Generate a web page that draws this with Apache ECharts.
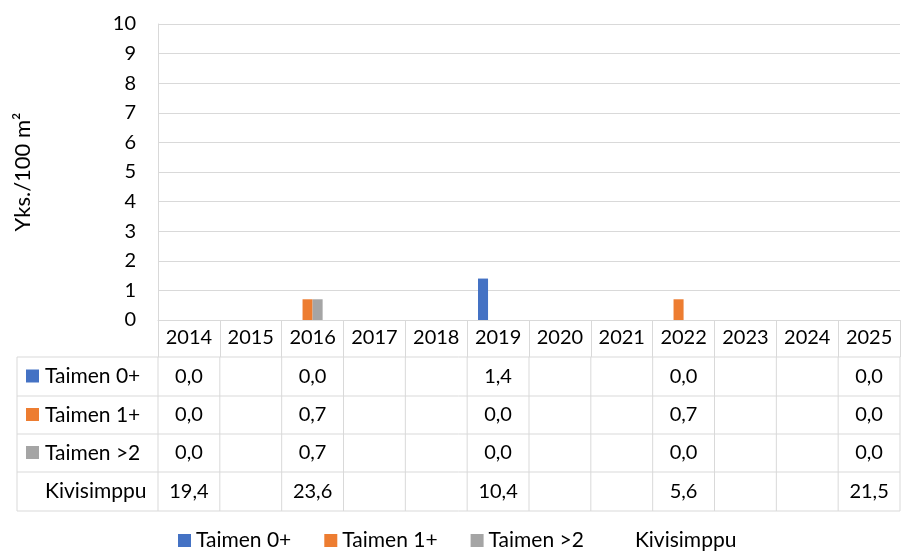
<!DOCTYPE html>
<html lang="fi">
<head>
    <meta charset="UTF-8">
    <title>Taimen / Kivisimppu</title>
    <script src="https://cdn.jsdelivr.net/npm/echarts@6.0.0/dist/echarts.min.js"></script>
    <style>
        body { margin: 0; background: #fff; }
    </style>
</head>
<body>
    <div id="chart" style="width: 901px; height: 557px;"></div>
    <script type="text/javascript">
        const years = ['2014', '2015', '2016', '2017', '2018', '2019', '2020', '2021', '2022', '2023', '2024', '2025'];
        const taimen0 = [0.0, null, 0.0, null, null, 1.4, null, null, 0.0, null, null, 0.0];
        const taimen1 = [0.0, null, 0.7, null, null, 0.0, null, null, 0.7, null, null, 0.0];
        const taimen2 = [0.0, null, 0.7, null, null, 0.0, null, null, 0.0, null, null, 0.0];
        const kivisimppu = [19.4, null, 23.6, null, null, 10.4, null, null, 5.6, null, null, 21.5];
        const yTicks = [0, 1, 2, 3, 4, 5, 6, 7, 8, 9, 10];

        const seriesNames = ['Taimen 0+', 'Taimen 1+', 'Taimen >2', 'Kivisimppu'];
        const seriesData = [taimen0, taimen1, taimen2, kivisimppu];
        const colors = ['#4472C4', '#ED7D31', '#A5A5A5', 'rgba(0,0,0,0)'];

        const FONT = 'Lato, "Open Sans", sans-serif';
        const FS = 20;
        const GRIDC = '#d9d9d9';

        const chart = echarts.init(document.getElementById('chart'), null, { renderer: 'canvas' });

        chart.setOption({
            animation: false,
            textStyle: { fontFamily: FONT, color: '#000' },
            grid: { left: 158, right: 1, top: 24, bottom: 237, containLabel: false },
            legend: {
                left: 173,
                bottom: 1,
                itemWidth: 13,
                itemHeight: 13,
                itemGap: 33,
                icon: 'rect',
                textStyle: { fontSize: 21, fontFamily: FONT, color: '#000' },
                data: seriesNames
            },
            xAxis: {
                type: 'category',
                data: years,
                axisLine: { lineStyle: { color: GRIDC } },
                axisTick: { show: true, interval: 0, length: 37, lineStyle: { color: GRIDC } },
                axisLabel: { fontSize: FS, color: '#000', margin: 8, interval: 0, fontFamily: FONT }
            },
            yAxis: {
                type: 'value',
                min: yTicks[0],
                max: yTicks[yTicks.length - 1],
                interval: 1,
                name: 'Yks./100 m²',
                nameLocation: 'middle',
                nameGap: 124,
                nameTextStyle: { fontSize: 22, color: '#000', fontFamily: FONT },
                axisLine: { show: true, lineStyle: { color: GRIDC } },
                axisLabel: { fontSize: FS, color: '#000', margin: 22, fontFamily: FONT },
                splitLine: { lineStyle: { color: GRIDC } }
            },
            series: seriesNames.map((name, i) => ({
                name: name,
                type: 'bar',
                data: seriesData[i],
                barGap: '0%',
                barCategoryGap: '35%',
                itemStyle: { color: colors[i] },
                clip: true
            }))
        });

        // data table under the plot
        function drawTable() {
            const step = chart.convertToPixel({ xAxisIndex: 0 }, 1) - chart.convertToPixel({ xAxisIndex: 0 }, 0);
            const x0 = chart.convertToPixel({ xAxisIndex: 0 }, 0) - step / 2;
            const tableLeft = 17;
            const rowTops = [357, 396, 434, 472, 511];
            const els = [];
            const line = (x1, y1, x2, y2) => els.push({
                type: 'line', silent: true,
                shape: { x1: x1, y1: y1, x2: x2, y2: y2 },
                style: { stroke: GRIDC, lineWidth: 1 }
            });
            rowTops.forEach(y => line(tableLeft, y, x0 + step * years.length, y));
            line(tableLeft, rowTops[0], tableLeft, rowTops[4]);
            for (let i = 0; i <= years.length; i++) {
                line(x0 + step * i, rowTops[0], x0 + step * i, rowTops[4]);
            }
            seriesNames.forEach((name, r) => {
                const cy = (rowTops[r] + rowTops[r + 1]) / 2;
                if (r < 3) {
                    els.push({
                        type: 'rect', silent: true,
                        shape: { x: 26, y: cy - 7, width: 13, height: 13 },
                        style: { fill: colors[r] }
                    });
                }
                els.push({
                    type: 'text', silent: true,
                    x: 45, y: cy,
                    style: { text: name, font: '21px ' + FONT, fill: '#000', textVerticalAlign: 'middle', textAlign: 'left' }
                });
                seriesData[r].forEach((v, c) => {
                    if (v === null) return;
                    els.push({
                        type: 'text', silent: true,
                        x: x0 + step * (c + 0.5), y: cy,
                        style: { text: v.toFixed(1).replace('.', ','), font: FS + 'px ' + FONT, fill: '#000', textVerticalAlign: 'middle', textAlign: 'center' }
                    });
                });
            });
            chart.setOption({ graphic: { elements: els } });
        }
        drawTable();
    </script>
</body>
</html>
